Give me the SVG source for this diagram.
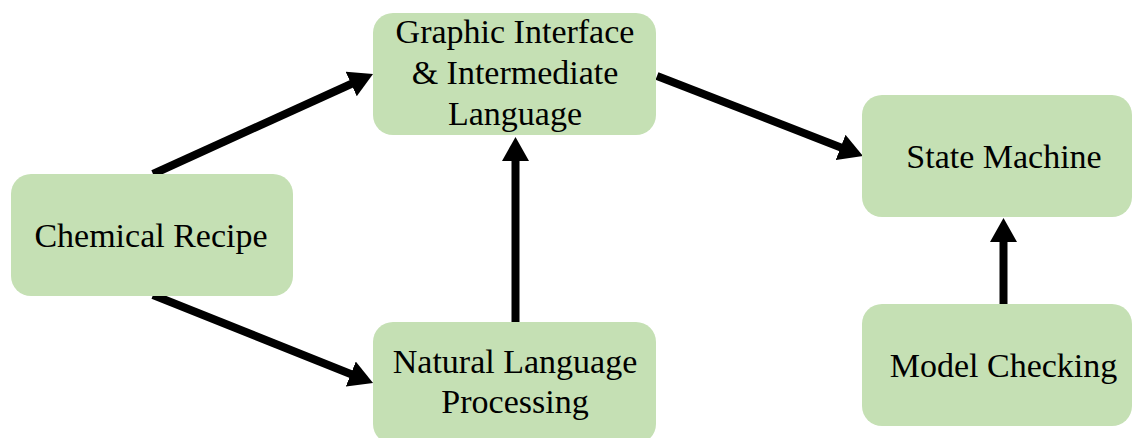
<svg xmlns="http://www.w3.org/2000/svg" width="1132" height="438" viewBox="0 0 1132 438">
  <style>
    .box { fill: #C5E0B4; }
    .label { font-family: "Liberation Serif", "Times New Roman", serif; font-size: 34px; fill: #000; text-anchor: middle; }
    .edge { stroke: #000; stroke-width: 8; fill: none; marker-end: url(#head); }
  </style>
  <defs>
    <marker id="head" markerUnits="userSpaceOnUse" markerWidth="24" markerHeight="27" refX="12" refY="13.5" orient="auto" viewBox="0 0 24 27">
      <path d="M0,0 L24,13.5 L0,27 Z" fill="#000"/>
    </marker>
  </defs>
  <rect width="1132" height="438" fill="#fff"/>

  <g id="connectors">
    <line class="edge" x1="153" y1="174" x2="362.1" y2="79.0"/>
    <line class="edge" x1="153" y1="295" x2="361.9" y2="378.5"/>
    <line class="edge" x1="515.5" y1="322" x2="515.5" y2="149"/>
    <line class="edge" x1="657" y1="76" x2="851.8" y2="151.7"/>
    <line class="edge" x1="1003.5" y1="304" x2="1003.5" y2="230"/>
  </g>

  <g id="chemical-recipe">
    <rect class="box" x="11" y="174" width="282" height="122" rx="20"/>
    <text class="label" x="151" y="247">Chemical Recipe</text>
  </g>

  <g id="graphic-interface">
    <rect class="box" x="373" y="13" width="283" height="122" rx="20"/>
    <text class="label" x="515" y="43">Graphic Interface</text>
    <text class="label" x="515" y="84">&amp; Intermediate</text>
    <text class="label" x="515" y="125">Language</text>
  </g>

  <g id="nlp">
    <rect class="box" x="373" y="322" width="283" height="122" rx="20"/>
    <text class="label" x="515" y="373">Natural Language</text>
    <text class="label" x="515" y="413">Processing</text>
  </g>

  <g id="state-machine">
    <rect class="box" x="862" y="95" width="270" height="122" rx="20"/>
    <text class="label" x="1004" y="168">State Machine</text>
  </g>

  <g id="model-checking">
    <rect class="box" x="862" y="304" width="270" height="122" rx="20"/>
    <text class="label" x="1003.5" y="377">Model Checking</text>
  </g>
</svg>
